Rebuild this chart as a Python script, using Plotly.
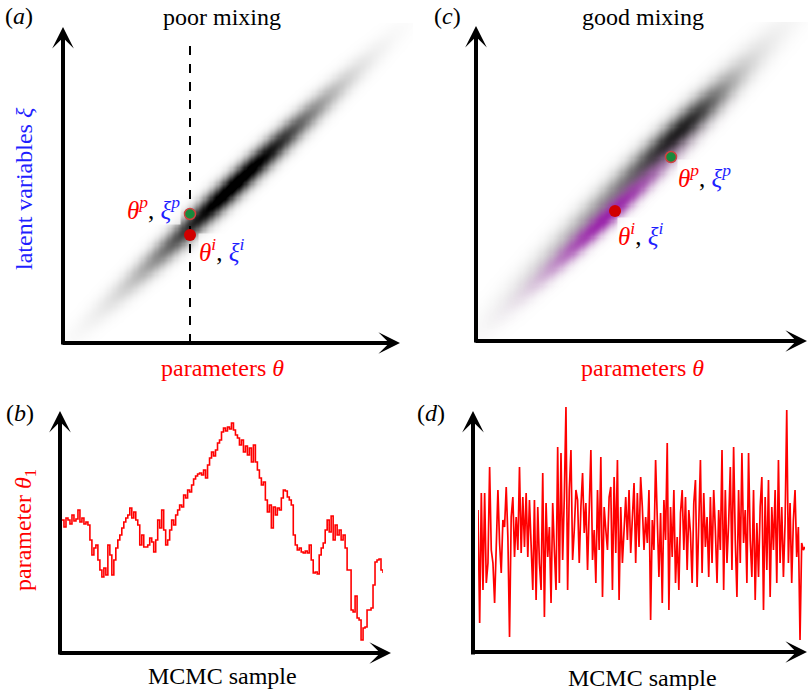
import numpy as np
import plotly.graph_objects as go

# ---------------- data ----------------
# (b) poor-mixing trace of parameter theta_1 (arbitrary units)
trace_poor = [134,127,136,134,130,139,133,135,144,132,136,130,132,129,114,99,106,109,94,84,77,86,79,109,99,79,94,106,
              114,119,126,132,136,139,146,136,142,134,129,109,119,107,107,109,116,112,102,114,134,126,144,124,109,114,
              124,134,129,139,144,149,147,159,156,164,162,169,175,178,180,181,179,184,176,189,196,202,198,204,211,214,
              222,226,223,227,225,231,224,219,216,209,214,202,208,199,206,192,209,192,184,176,169,172,154,142,149,126,
              147,139,146,144,156,164,163,157,154,149,119,109,104,106,102,101,103,101,109,94,81,82,80,99,106,111,124,
              134,122,138,114,129,119,124,114,119,106,84,84,44,42,58,36,34,14,26,27,44,44,46,69,92,94,95,84,81]

# (d) good-mixing trace (arbitrary units)
trace_good = [144,31,161,64,161,71,91,187,104,91,51,114,164,111,81,134,127,167,117,17,137,157,97,137,104,187,101,157,
              107,161,97,154,107,64,154,54,147,91,64,181,37,151,97,127,51,151,104,64,207,71,201,94,157,247,64,164,204,
              94,124,164,154,91,147,181,121,151,84,161,204,94,124,71,164,104,197,57,147,124,104,157,167,64,177,101,194,
              54,147,91,131,157,114,164,101,141,171,91,161,107,177,147,104,137,111,164,34,134,104,194,131,77,141,51,154,
              114,211,44,147,97,164,71,117,64,141,164,104,157,84,144,121,71,151,174,67,131,194,81,161,107,137,77,157,91,
              164,124,71,144,104,204,64,164,91,131,187,84,207,114,57,164,91,201,111,144,71,201,114,77,164,54,131,77,147,
              177,44,157,84,174,57,147,104,164,71,194,91,147,77,131,244,91,151,71,134,164,97,127,14,111,104,107]

# posterior densities (centre theta, centre xi, angle deg, sd along, sd across, weight)
post_poor = [(172, 159, 43.3, 80, 8, 1.0)]
post_good = [(163, 171, 45.0, 95, 10.5, 0.45), (208, 214, 44.0, 42, 9, 0.5)]
proposal_good = [(130, 124, 43.0, 52, 6.5, 1.0)]

# current (i) and proposed (p) states
poor_theta_i, poor_xi_i = 127, 108
poor_theta_p, poor_xi_p = 127, 129
good_theta_i, good_xi_i = 139, 130
good_theta_p, good_xi_p = 195, 184

# ---------------- helpers ----------------
W, H = 808, 690
def px(x): return x / W
def py(y): return 1 - y / H

def density(xr, yr, comps, n=300):
    xs = np.linspace(xr[0], xr[1], n)
    ys = np.linspace(yr[0], yr[1], n)
    X, Y = np.meshgrid(xs, ys)
    Z = np.zeros_like(X)
    for cx, cy, ang, su, sw, wt in comps:
        a = np.deg2rad(ang)
        u = (X - cx) * np.cos(a) + (Y - cy) * np.sin(a)
        v = -(X - cx) * np.sin(a) + (Y - cy) * np.cos(a)
        Z += wt * np.exp(-0.5 * (u**2 / su**2 + v**2 / sw**2))
    return xs, ys, Z

SERIF = "Liberation Serif, Times New Roman, serif"
RED = "#ff0000"
BLUE = "#1f1fff"

fig = go.Figure()

# panel (a)
xa, ya, za = density((0, 350), (0, 320), post_poor)
fig.add_trace(go.Heatmap(x=xa, y=ya, z=za, colorscale=[[0, "white"], [1, "black"]], zmin=0, zmax=0.9,
                         zsmooth="best", showscale=False, hoverinfo="skip", xaxis="x", yaxis="y"))
fig.add_trace(go.Scatter(x=[poor_theta_i, poor_theta_i], y=[0, 301], mode="lines",
                         line=dict(color="black", width=2, dash="dash"), xaxis="x", yaxis="y", hoverinfo="skip"))
fig.add_trace(go.Scatter(x=[poor_theta_p], y=[poor_xi_p], mode="markers",
                         marker=dict(size=11, color="#188a3c", line=dict(color="#d04040", width=1.5)),
                         xaxis="x", yaxis="y"))
fig.add_trace(go.Scatter(x=[poor_theta_i], y=[poor_xi_i], mode="markers",
                         marker=dict(size=12, color="#d00000"), xaxis="x", yaxis="y"))

# panel (c)
xc, yc, zc = density((0, 332), (0, 319), post_good)
_, _, zp = density((0, 332), (0, 319), proposal_good)
fig.add_trace(go.Heatmap(x=xc, y=yc, z=zc, colorscale=[[0, "white"], [1, "black"]], zmin=0, zmax=1.0,
                         zsmooth="best", showscale=False, hoverinfo="skip", xaxis="x2", yaxis="y2"))
fig.add_trace(go.Heatmap(x=xc, y=yc, z=zp, colorscale=[[0, "rgba(145,0,165,0)"], [1, "rgba(145,0,165,0.8)"]],
                         zmin=0, zmax=1, zsmooth="best", showscale=False, hoverinfo="skip", xaxis="x2", yaxis="y2"))
fig.add_trace(go.Scatter(x=[good_theta_p], y=[good_xi_p], mode="markers",
                         marker=dict(size=11, color="#188a3c", line=dict(color="#d04040", width=1.5)),
                         xaxis="x2", yaxis="y2"))
fig.add_trace(go.Scatter(x=[good_theta_i], y=[good_xi_i], mode="markers",
                         marker=dict(size=12, color="#d00000"), xaxis="x2", yaxis="y2"))

# panel (b)
fig.add_trace(go.Scatter(x=list(range(len(trace_poor))), y=trace_poor, mode="lines", line_shape="hv",
                         line=dict(color=RED, width=1.6), xaxis="x3", yaxis="y3"))
# panel (d)
fig.add_trace(go.Scatter(x=list(range(len(trace_good))), y=trace_good, mode="lines",
                         line=dict(color=RED, width=1.7), xaxis="x4", yaxis="y4"))

hidden = dict(visible=False, showgrid=False, zeroline=False, fixedrange=True)
fig.update_layout(
    width=W, height=H, margin=dict(l=0, r=0, t=0, b=0),
    paper_bgcolor="white", plot_bgcolor="rgba(0,0,0,0)", showlegend=False,
    xaxis=dict(domain=[px(63), px(413)], range=[0, 350], anchor="y", **hidden),
    yaxis=dict(domain=[py(343), py(23)], range=[0, 320], anchor="x", **hidden),
    xaxis2=dict(domain=[px(476), px(808)], range=[0, 332], anchor="y2", **hidden),
    yaxis2=dict(domain=[py(341), py(22)], range=[0, 319], anchor="x2", **hidden),
    xaxis3=dict(domain=[px(62), px(383)], range=[0, len(trace_poor) - 1], anchor="y3", **hidden),
    yaxis3=dict(domain=[py(654), py(405)], range=[0, 249], anchor="x3", **hidden),
    xaxis4=dict(domain=[px(478), px(805)], range=[0, len(trace_good) - 1], anchor="y4", **hidden),
    yaxis4=dict(domain=[py(654), py(405)], range=[0, 249], anchor="x4", **hidden),
)

ann = []
def text(x, y, s, size=24, color="black", xanchor="center", angle=0, bg=None):
    d = dict(x=px(x), y=py(y), xref="paper", yref="paper", text=s, showarrow=False,
             font=dict(family=SERIF, size=size, color=color), xanchor=xanchor, yanchor="middle",
             textangle=angle, borderpad=0)
    if bg:
        d["bgcolor"] = bg
    ann.append(d)

def arrow(x0, y0, x1, y1):
    ann.append(dict(x=px(x1), y=py(y1), xref="paper", yref="paper", ax=x0 - x1, ay=y0 - y1,
                    axref="pixel", ayref="pixel", text="", showarrow=True, arrowhead=3,
                    arrowsize=0.9, arrowwidth=4, arrowcolor="black", standoff=0, startstandoff=0,
                    font=dict(family=SERIF, size=10)))

# axes arrows
arrow(63, 346, 63, 27); arrow(61, 343, 400, 343)
arrow(476, 344, 476, 26); arrow(474, 341, 812, 341)
arrow(60, 656, 60, 411); arrow(58, 653, 391, 653)
arrow(473, 656, 473, 411); arrow(471, 652, 812, 652)

# panel labels & titles
text(19, 16, "(<i>a</i>)")
text(222, 17, "poor mixing")
text(447, 16, "(<i>c</i>)")
text(643, 17, "good mixing")
text(20, 413, "(<i>b</i>)")
text(431, 413, "(<i>d</i>)")

text(24, 189, "latent variables <i>ξ</i>", 24, BLUE, angle=-90)
text(222, 368, "parameters <i>θ</i>", 24, RED)
text(642, 368, "parameters <i>θ</i>", 24, RED)
text(25, 530, "parameter <i>θ</i><sub>1</sub>", 24, RED, angle=-90)
text(222, 676, "MCMC sample", 24)
text(642, 678, "MCMC sample", 24)

lp = '<span style="color:#ff0000"><i>θ</i><sup><i>p</i></sup></span>, <span style="color:#1f1fff"><i>ξ</i><sup><i>p</i></sup></span>'
li = '<span style="color:#ff0000"><i>θ</i><sup><i>i</i></sup></span>, <span style="color:#1f1fff"><i>ξ</i><sup><i>i</i></sup></span>'
halo = "rgba(255,255,255,0.7)"
text(181, 208, lp, 25, xanchor="right", bg=halo)
text(198, 250, li, 25, xanchor="left", bg=halo)
text(677, 176, lp, 25, xanchor="left", bg=halo)
text(617, 234, li, 25, xanchor="left", bg=halo)

fig.update_layout(annotations=ann)
fig.write_html("out.html")
